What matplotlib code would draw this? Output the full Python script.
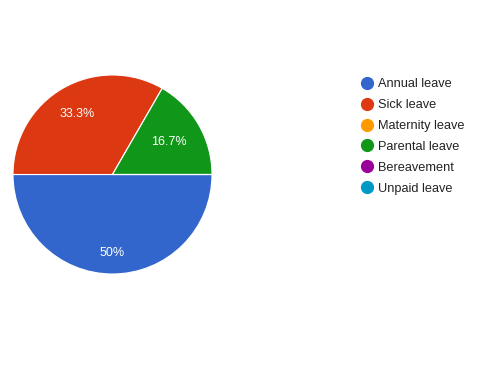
import matplotlib
matplotlib.use("Agg")
import matplotlib.pyplot as plt
from matplotlib.lines import Line2D
import numpy as np

categories = ["Annual leave", "Sick leave", "Maternity leave", "Parental leave", "Bereavement", "Unpaid leave"]
values = [3, 2, 0, 1, 0, 0]
pct_labels = ["50%", "33.3%", "", "16.7%", "", ""]
colors = ["#3366cc", "#dc3912", "#ff9900", "#109618", "#990099", "#0099c6"]

plt.rcParams['font.family'] = ['Liberation Sans', 'DejaVu Sans']

W, H = 495, 370
fig = plt.figure(figsize=(W / 100, H / 100), dpi=100)
fig.patch.set_facecolor("white")

cx, cy, r = 112.5, 174.5, 99.5
ax = fig.add_axes([(cx - r) / W, (H - cy - r) / H, 2 * r / W, 2 * r / H])
wedges, _ = ax.pie(values, colors=colors, startangle=0, counterclock=False,
                   radius=1.0, wedgeprops=dict(edgecolor="white", linewidth=0.8))
ax.set_xlim(-1, 1)
ax.set_ylim(-1, 1)
ax.set_aspect("equal")
ax.axis("off")

label_dist = [0.79, 0.70, 0.7, 0.66, 0.7, 0.7]
for w, lab, d in zip(wedges, pct_labels, label_dist):
    if not lab:
        continue
    th = np.deg2rad((w.theta1 + w.theta2) / 2)
    ax.text(d * np.cos(th), d * np.sin(th), lab, ha="center", va="center",
            color="white", fontsize=9)

handles = [Line2D([0], [0], marker="o", linestyle="", markersize=8.5,
                  markerfacecolor=c, markeredgecolor=c) for c in colors]
fig.legend(handles, categories, loc="upper left",
           bbox_to_anchor=(354 / W, 1 - 73 / H), frameon=False,
           fontsize=9.2, labelcolor="#222222", handletextpad=0.25,
           labelspacing=0.7, handlelength=1.2, borderaxespad=0)

fig.savefig("out.png", dpi=100, facecolor="white")
